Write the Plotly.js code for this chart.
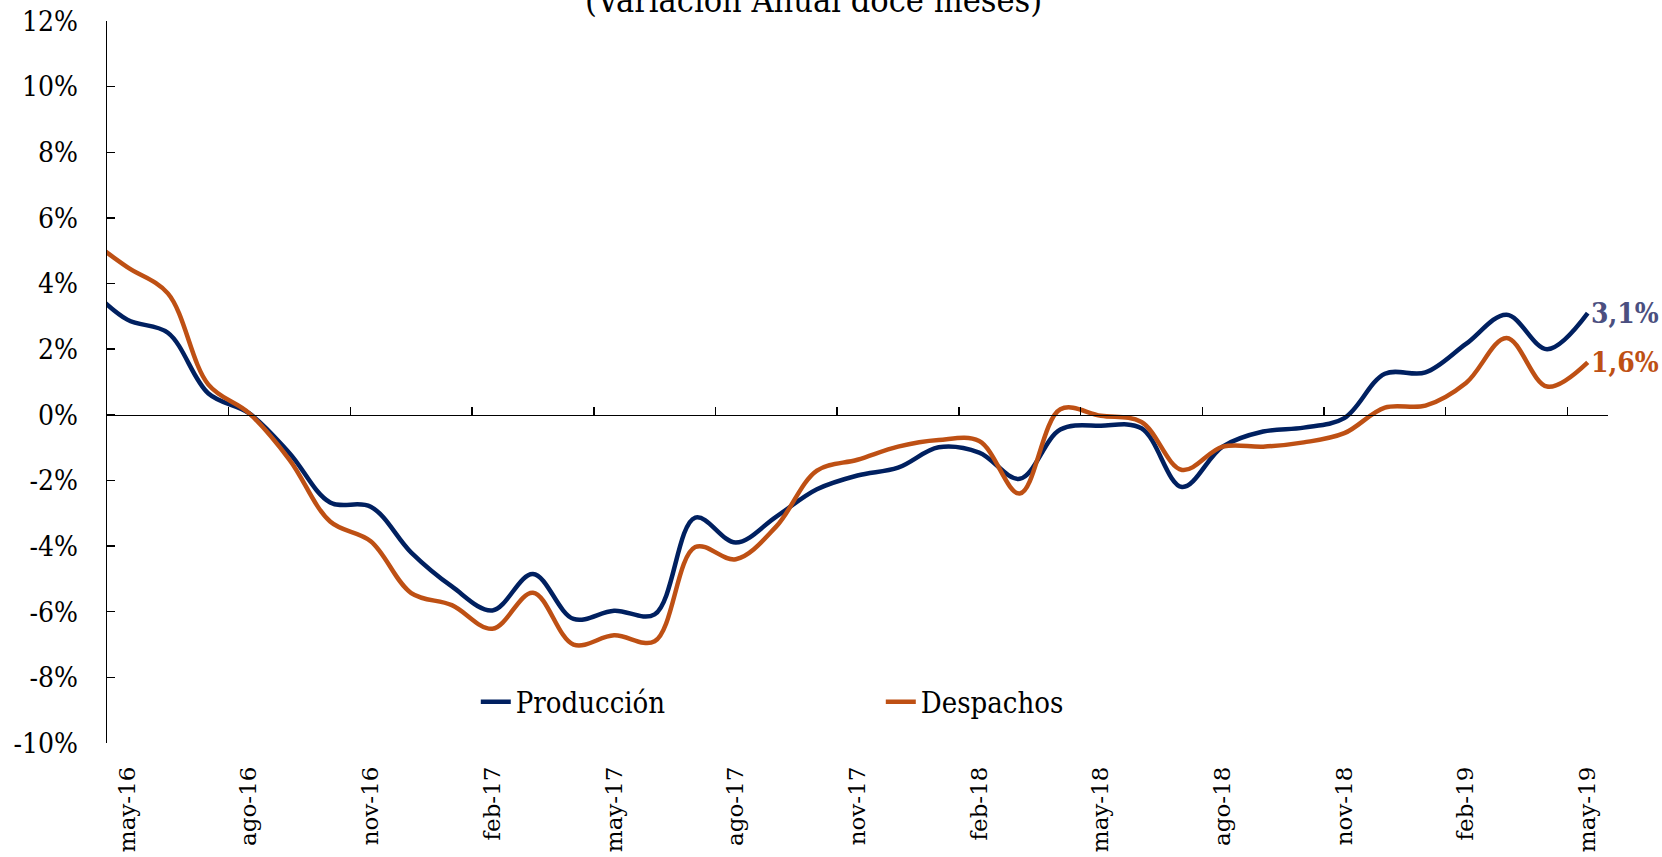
<!DOCTYPE html>
<html><head><meta charset="utf-8">
<script src="https://cdn.plot.ly/plotly-3.0.1.min.js"></script>
<style>html,body{margin:0;padding:0;background:#fff}#chart{width:1662px;height:857px}</style>
</head><body><div id="chart"></div>
<script>
const months = ["abr-16","may-16","jun-16","jul-16","ago-16","sep-16","oct-16","nov-16","dic-16",
  "ene-17","feb-17","mar-17","abr-17","may-17","jun-17","jul-17","ago-17","sep-17","oct-17","nov-17","dic-17",
  "ene-18","feb-18","mar-18","abr-18","may-18","jun-18","jul-18","ago-18","sep-18","oct-18","nov-18","dic-18",
  "ene-19","feb-19","mar-19","abr-19","may-19"];
const produccion = [3.95, 2.90, 2.50, 0.65, 0.05, -1.17, -2.67, -2.80, -4.20,
  -5.23, -5.96, -4.85, -6.22, -5.97, -6.08, -3.13, -3.89, -3.10, -2.27, -1.85, -1.61,
  -0.99, -1.15, -1.95, -0.45, -0.33, -0.41, -2.20, -0.97, -0.51, -0.39, -0.10, 1.25,
  1.29, 2.16, 3.05, 2.00, 3.10];
const despachos = [5.40, 4.50, 3.70, 0.92, 0.05, -1.37, -3.25, -3.85, -5.43,
  -5.80, -6.52, -5.42, -7.00, -6.72, -6.90, -4.03, -4.40, -3.40, -1.70, -1.37, -0.97,
  -0.77, -0.80, -2.40, 0.17, -0.03, -0.22, -1.68, -0.97, -0.97, -0.84, -0.56, 0.22,
  0.28, 0.97, 2.34, 0.86, 1.60];
const yTickVals = [-10, -8, -6, -4, -2, 0, 2, 4, 6, 8, 10, 12];
const yTickText = yTickVals.map(v => v + '%');
const seriesNames = ['Producción', 'Despachos'];
const titleText = '(Variación Anual doce meses)';

const COND = "'DejaVu Serif Condensed', 'Liberation Serif', serif";
const SLAB = "'DejaVu Serif', serif";
const navy = '#002060', orange = '#BE5014', navyLabel = '#4B4F80';
const yMin = yTickVals[0], yMax = yTickVals[yTickVals.length - 1];
const zeroPos = (0 - yMin) / (yMax - yMin);
const last = months.length - 1;
const fmt = v => v.toFixed(1).replace('.', ',') + '%';

const traces = [
  {x: months, y: produccion, name: seriesNames[0], type: 'scatter', mode: 'lines',
   line: {color: navy, width: 4.5, shape: 'spline', smoothing: 1}, xaxis: 'x', yaxis: 'y', hoverinfo: 'skip'},
  {x: months, y: despachos, name: seriesNames[1], type: 'scatter', mode: 'lines',
   line: {color: orange, width: 4.5, shape: 'spline', smoothing: 1}, xaxis: 'x2', yaxis: 'y', hoverinfo: 'skip'}
];

const layout = {
  width: 1662, height: 857,
  margin: {l: 107, r: 54, t: 21, b: 114},
  paper_bgcolor: '#fff', plot_bgcolor: '#fff',
  showlegend: true,
  legend: {orientation: 'h', x: 0.2457, xanchor: 'left', y: 0.057, yanchor: 'middle',
    font: {family: COND, size: 29, color: '#000'}, entrywidth: 360, entrywidthmode: 'pixels',
    bgcolor: 'rgba(0,0,0,0)', borderwidth: 0},
  xaxis: {type: 'category', categoryorder: 'array', categoryarray: months,
    range: [0.5, last + 0.5], tickmode: 'linear', tick0: 1, dtick: 3, tickangle: -90,
    ticks: '', showline: false, showgrid: false, zeroline: false,
    tickfont: {family: SLAB, size: 23, color: '#000'}, ticklabelstandoff: 18},
  xaxis2: {type: 'category', categoryorder: 'array', categoryarray: months,
    overlaying: 'x', matches: 'x', anchor: 'free', position: zeroPos, side: 'bottom',
    showline: true, linecolor: '#000', linewidth: 1.5,
    ticks: 'inside', ticklen: 8, tickwidth: 1.5, tickcolor: '#000', tickson: 'boundaries',
    tickmode: 'linear', tick0: 1, dtick: 3, showticklabels: false, showgrid: false, zeroline: false},
  yaxis: {range: [yMin, yMax], tickmode: 'array', tickvals: yTickVals, ticktext: yTickText,
    ticks: 'inside', ticklen: 8, tickwidth: 1.5, tickcolor: '#000',
    showline: true, linecolor: '#000', linewidth: 1.5, showgrid: false, zeroline: false,
    tickfont: {family: COND, size: 28, color: '#000'}, ticklabelstandoff: 22},
  annotations: [
    {text: titleText, xref: 'paper', yref: 'paper', x: 0.4706, y: 0.998, xanchor: 'center', yanchor: 'bottom',
     showarrow: false, font: {family: COND, size: 34, color: '#000'}},
    {text: '<b>' + fmt(produccion[last]) + '</b>', xref: 'x', yref: 'y', x: months[last], y: produccion[last],
     xanchor: 'left', yanchor: 'middle', xshift: 1, showarrow: false,
     font: {family: COND, size: 28, color: navyLabel}},
    {text: '<b>' + fmt(despachos[last]) + '</b>', xref: 'x', yref: 'y', x: months[last], y: despachos[last],
     xanchor: 'left', yanchor: 'middle', xshift: 1, showarrow: false,
     font: {family: COND, size: 28, color: orange}}
  ]
};

Plotly.newPlot('chart', traces, layout, {displayModeBar: false, staticPlot: true});
</script>
</body></html>
